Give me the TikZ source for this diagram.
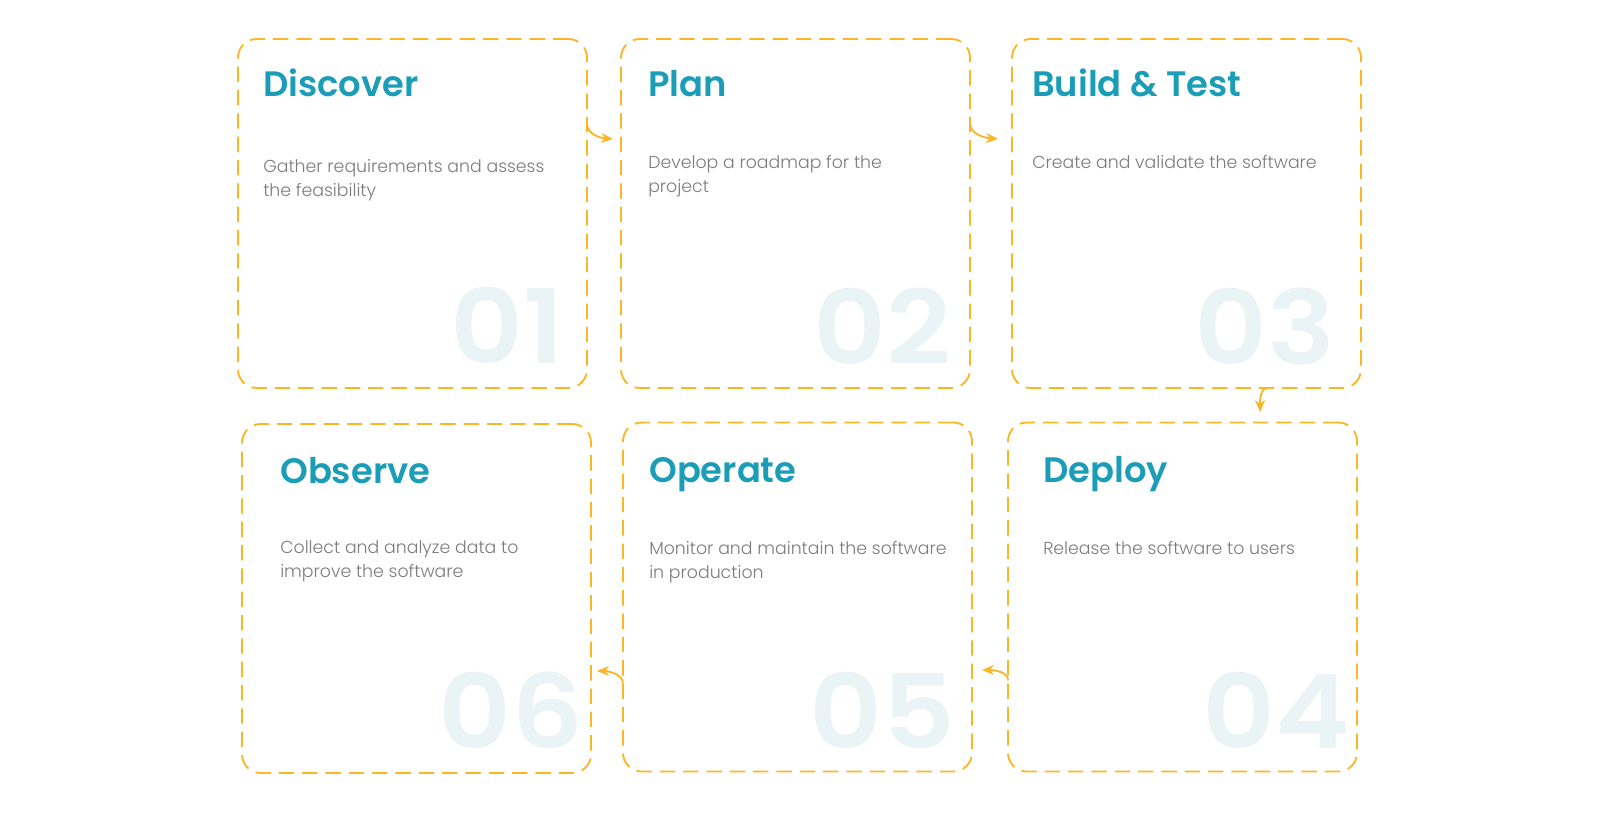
\documentclass[tikz,border=0pt]{standalone}
\usepackage{fontspec}
\setmainfont{Poppins}
\newfontfamily\lightfont{Poppins Light}
\newfontfamily\semifont{Poppins SemiBold}
\newfontfamily\numfont{Poppins SemiBold}[FakeStretch=1.1]
\usetikzlibrary{arrows.meta,calc}
\definecolor{orng}{HTML}{FBB626}
\definecolor{ttlc}{HTML}{1C9DB7}
\definecolor{gry}{HTML}{7B7B7B}
\definecolor{numc}{HTML}{EAF3F6}
\begin{document}
\begin{tikzpicture}[x=0.75pt,y=-0.75pt,
 box/.style={draw=orng, line width=1.4pt, dash pattern=on 11.5pt off 6pt, rounded corners=14pt, minimum width=261.75pt, minimum height=261.75pt, inner sep=0pt, outer sep=0pt},
 ttl/.style={anchor=base west, inner sep=0pt, text=ttlc, font=\semifont\fontsize{26.5}{30}\selectfont},
 body/.style={anchor=base west, inner sep=0pt, text=gry, align=left, font=\lightfont\fontsize{13}{18}\selectfont},
 num/.style={anchor=base east, inner sep=0pt, text=numc, font=\numfont\fontsize{77}{80}\selectfont},
 conn/.style={draw=orng, line width=1.4pt, -{Stealth[length=9pt,width=7.5pt,inset=3pt]}}]
\useasboundingbox (0,0) rectangle (1600,817);
% numbers
\node[num] (n1) at (565,363) {01};
\node[num] (n2) at (952,364) {02};
\node[num] (n3) at (1335,364) {03};
\node[num] (n4) at (1350,748) {04};
\node[num] (n5) at (955,748) {05};
\node[num] (n6) at (584,748) {06};
% boxes
\node[box] (b1) at (412.5,213.5) {};
\node[box] (b2) at (795.5,213.5) {};
\node[box] (b3) at (1186.5,213.5) {};
\node[box] (b4) at (1182.5,597) {};
\node[box] (b5) at (797.5,597) {};
\node[box] (b6) at (416.5,598.5) {};
% titles
\node[ttl] (t1) at (263,97) {Discover};
\node[ttl] (t2) at (648,97) {Plan};
\node[ttl] (t3) at (1032,97) {Build \& Test};
\node[ttl] (t4) at (1043,482) {Deploy};
\node[ttl] (t5) at (649,482) {Operate};
\node[ttl] (t6) at (280,483) {Observe};
% bodies (base anchor = last line)
\node[body] (d1) at (263,196) {Gather requirements and assess\\the feasibility};
\node[body] (d2) at (648,192) {Develop a roadmap for the\\project};
\node[body] (d3) at (1032,168) {Create and validate the software};
\node[body] (d4) at (1043,554) {Release the software to users};
\node[body] (d5) at (649,578) {Monitor and maintain the software\\in production};
\node[body] (d6) at (280,577) {Collect and analyze data to\\improve the software};
% connectors
\coordinate (e12) at (613,139);
\coordinate (e23) at (998,139);
\coordinate (e34) at (1260,412);
\coordinate (e45) at (982,670);
\coordinate (e56) at (597,671);
\draw[conn] ($(b1.north east)+(0,84)$) .. controls +(0,12) and +(-12,-1) .. (e12);
\draw[conn] ($(b2.north east)+(0,84)$) .. controls +(0,12) and +(-12,-1) .. (e23);
\draw[conn] ($(b3.south west)+(256,0)$) .. controls +(-8,0) and +(0,-12) .. (e34);
\draw[conn] ($(b4.south west)+(0,-91)$) .. controls +(0,-9) and +(12,0) .. (e45);
\draw[conn] ($(b5.south west)+(0,-88)$) .. controls +(0,-9) and +(12,0) .. (e56);
\end{tikzpicture}
\end{document}
